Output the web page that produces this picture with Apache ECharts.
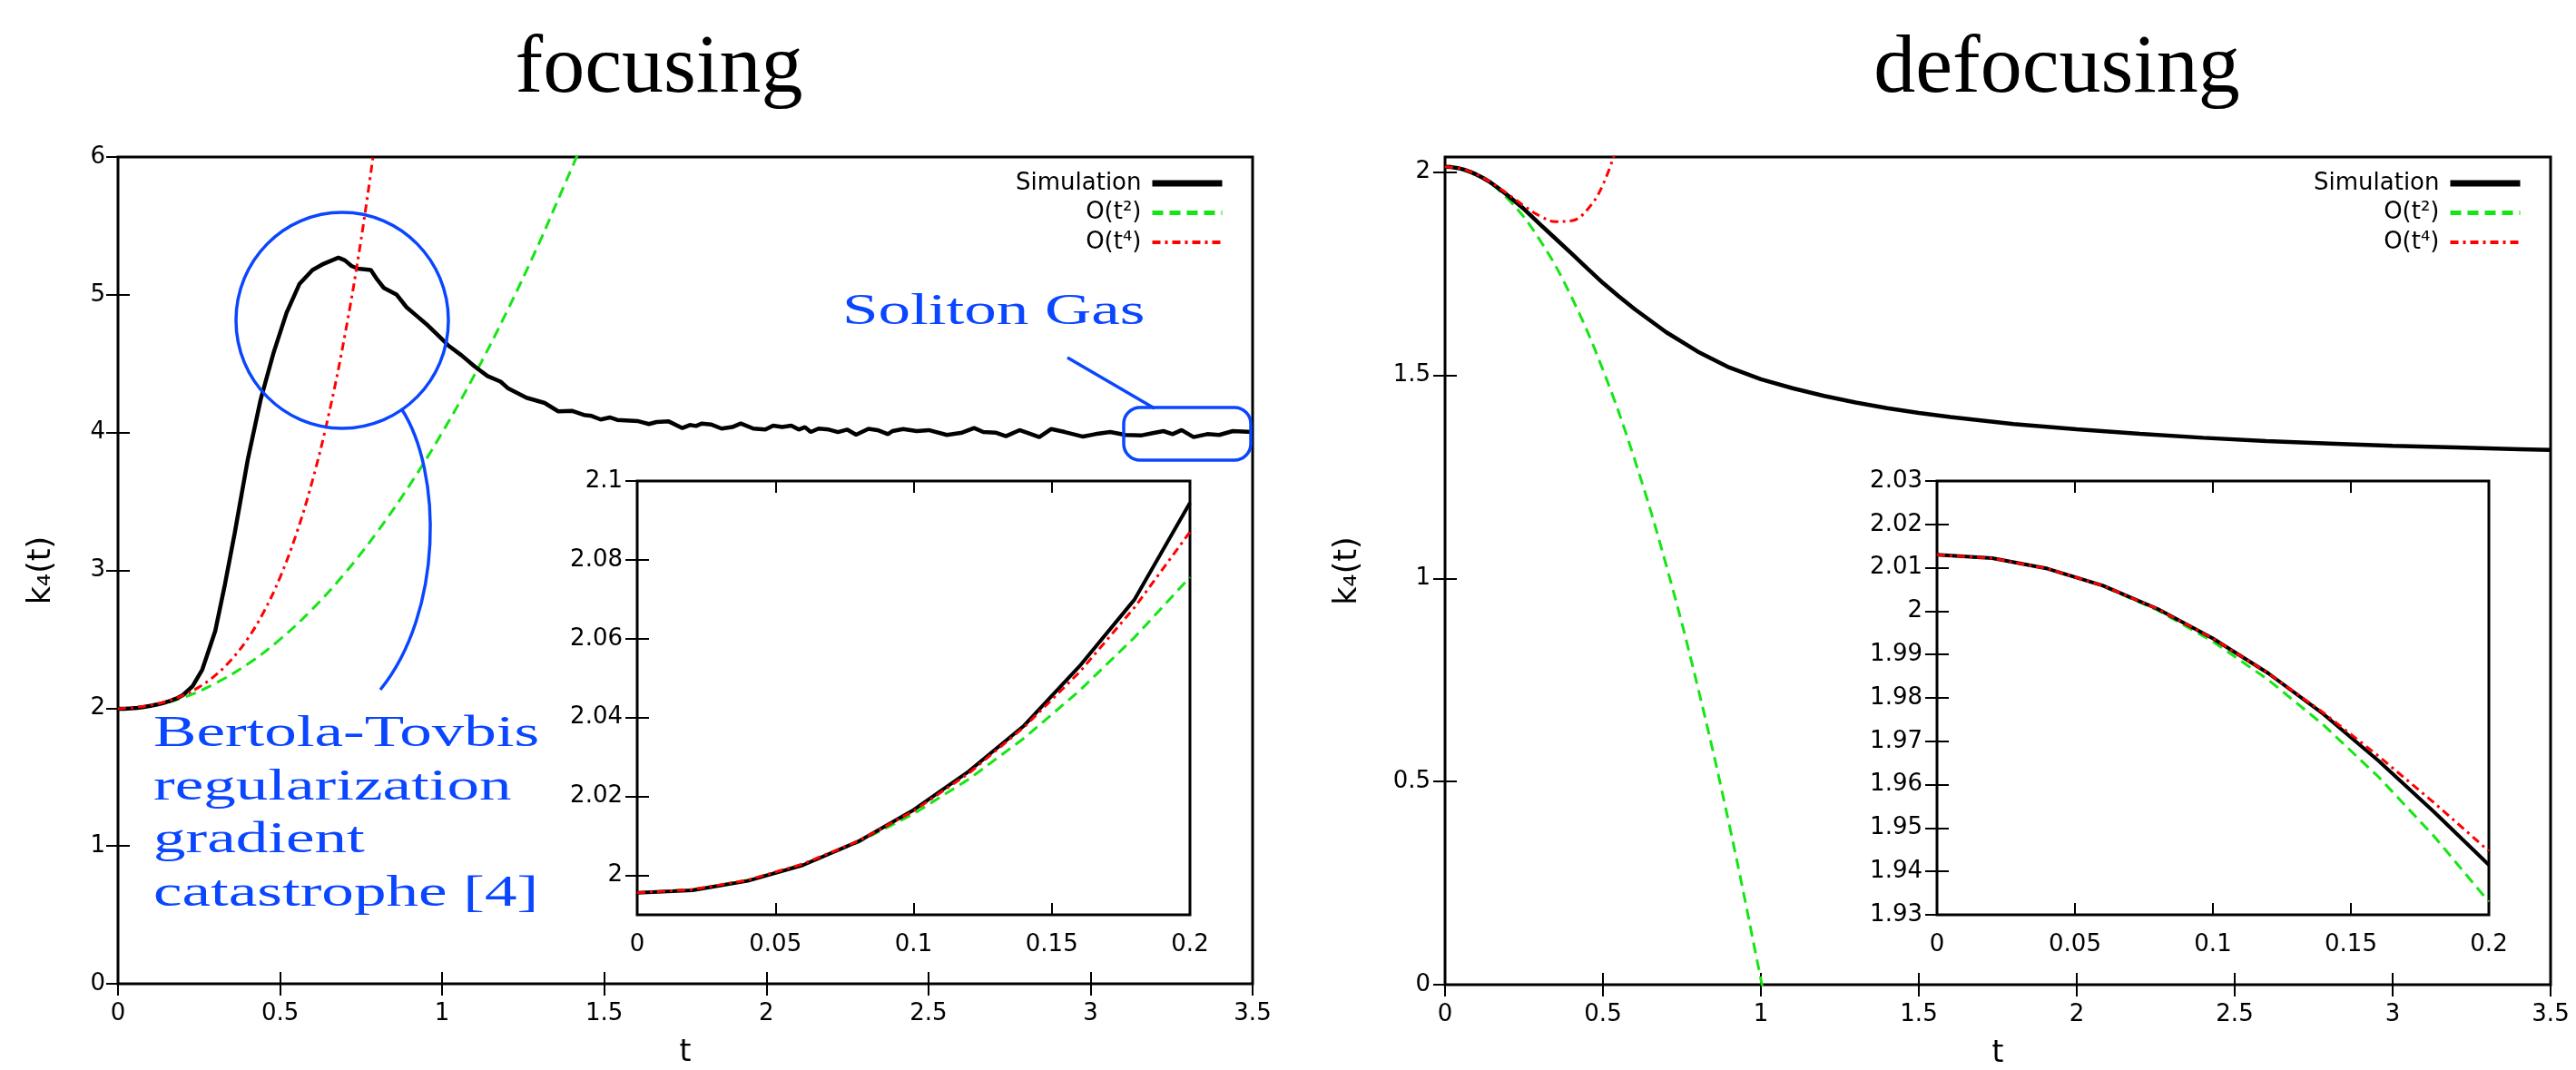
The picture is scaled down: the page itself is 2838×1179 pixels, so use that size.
<!DOCTYPE html>
<html>
<head>
<meta charset="utf-8">
<title>k4(t) focusing / defocusing</title>
<script src="https://cdn.jsdelivr.net/npm/echarts@6/dist/echarts.min.js"></script>
<style>
html, body { margin: 0; padding: 0; background: #fff; }
#chart { width: 2838px; height: 1179px; }
</style>
</head>
<body>
<div id="chart"></div>
<script>
// ---------- data ----------
const names = ['Simulation', 'O(t²)', 'O(t⁴)'];

// focusing, main panel
const focSimT = [0, 0.02, 0.04, 0.06, 0.08, 0.1, 0.12, 0.14, 0.16, 0.18, 0.2, 0.23, 0.26, 0.3, 0.33, 0.36, 0.4, 0.44, 0.48,
  0.52, 0.56, 0.6, 0.63, 0.66, 0.68, 0.7, 0.72, 0.74, 0.78, 0.8, 0.82, 0.86, 0.89, 0.92, 0.95, 0.99, 1.02, 1.06, 1.1,
  1.14, 1.18, 1.204, 1.26, 1.316, 1.358, 1.4, 1.437, 1.461, 1.489, 1.517, 1.54, 1.605, 1.638, 1.661, 1.699, 1.741,
  1.764, 1.783, 1.801, 1.829, 1.862, 1.895, 1.921, 1.96, 1.997, 2.021, 2.049, 2.077, 2.1, 2.119, 2.137, 2.161, 2.193,
  2.221, 2.249, 2.277, 2.315, 2.343, 2.375, 2.389, 2.422, 2.464, 2.501, 2.557, 2.604, 2.641, 2.669, 2.707, 2.739,
  2.781, 2.809, 2.842, 2.879, 2.921, 2.977, 3.015, 3.061, 3.108, 3.155, 3.192, 3.225, 3.253, 3.281, 3.318, 3.36,
  3.397, 3.439, 3.5];
const focSimK = [1.9956, 1.9962, 1.9986, 2.0026, 2.0086, 2.0166, 2.0264, 2.038, 2.053, 2.07, 2.0945, 2.16, 2.28, 2.56,
  2.9, 3.27, 3.8, 4.24, 4.58, 4.87, 5.08, 5.18, 5.22, 5.25, 5.27, 5.25, 5.21, 5.19, 5.18, 5.11, 5.05, 5.0, 4.91, 4.85,
  4.79, 4.7, 4.63, 4.56, 4.48, 4.41, 4.37, 4.32, 4.253, 4.215, 4.154, 4.158, 4.128, 4.121, 4.095, 4.11, 4.092, 4.083,
  4.062, 4.077, 4.081, 4.033, 4.055, 4.048, 4.066, 4.059, 4.029, 4.04, 4.066, 4.029, 4.022, 4.051, 4.04, 4.051, 4.022,
  4.04, 4.004, 4.029, 4.022, 4.004, 4.022, 3.985, 4.027, 4.018, 3.989, 4.011, 4.026, 4.011, 4.018, 3.983, 4.0, 4.033,
  4.004, 4.0, 3.974, 4.018, 3.996, 3.967, 4.026, 4.004, 3.971, 3.989, 4.004, 3.983, 3.979, 3.996, 4.011, 3.989, 4.018,
  3.967, 3.989, 3.983, 4.011, 4.004];
const focT2T = [0, 0.1, 0.2, 0.3, 0.4, 0.5, 0.6, 0.7, 0.8, 0.9, 1.0, 1.1, 1.2, 1.3, 1.35, 1.42];
const focT2K = [1.9956, 2.016, 2.076, 2.18, 2.32, 2.5, 2.72, 2.98, 3.28, 3.62, 4.0, 4.42, 4.88, 5.38, 5.65, 6.03];
const focT4T = [0, 0.05, 0.1, 0.15, 0.2, 0.25, 0.3, 0.35, 0.4, 0.45, 0.5, 0.55, 0.6, 0.65, 0.7, 0.75, 0.8];
const focT4K = [1.9956, 2.005, 2.021, 2.049, 2.092, 2.153, 2.238, 2.353, 2.504, 2.7, 2.95, 3.264, 3.653, 4.13, 4.709,
  5.403, 6.229];

// focusing, inset
const insT = [0, 0.02, 0.04, 0.06, 0.08, 0.1, 0.12, 0.14, 0.16, 0.18, 0.2];
const focInSim = [1.9956, 1.9962, 1.9986, 2.0026, 2.0086, 2.0166, 2.0264, 2.038, 2.053, 2.07, 2.0945];
const focInT2 = [1.9956, 1.9964, 1.9988, 2.0028, 2.0084, 2.0156, 2.0244, 2.0348, 2.0468, 2.0604, 2.0756];
const focInT4 = [1.9956, 1.9964, 1.9988, 2.0029, 2.0087, 2.0163, 2.0259, 2.0376, 2.0515, 2.068, 2.0871];

// defocusing, main panel
const defSimT = [0, 0.02, 0.04, 0.06, 0.08, 0.1, 0.12, 0.14, 0.16, 0.18, 0.2, 0.25, 0.3, 0.35, 0.4, 0.45, 0.5, 0.55,
  0.6, 0.7, 0.8, 0.9, 1.0, 1.1, 1.2, 1.3, 1.4, 1.5, 1.6, 1.8, 2.0, 2.2, 2.4, 2.6, 2.8, 3.0, 3.2, 3.4, 3.5];
const defSimK = [2.013, 2.0122, 2.0098, 2.0059, 2.0005, 1.9937, 1.9857, 1.9763, 1.9655, 1.9538, 1.9415, 1.909, 1.872,
  1.836, 1.8, 1.763, 1.727, 1.694, 1.663, 1.606, 1.558, 1.519, 1.49, 1.468, 1.449, 1.433, 1.419, 1.407, 1.397, 1.38,
  1.367, 1.356, 1.346, 1.338, 1.332, 1.326, 1.322, 1.318, 1.316];
const defT2T = [0, 0.1, 0.2, 0.3, 0.4, 0.5, 0.6, 0.7, 0.8, 0.9, 1.0, 1.02];
const defT2K = [2.013, 1.993, 1.933, 1.833, 1.693, 1.513, 1.293, 1.033, 0.733, 0.393, 0.013, -0.068];
const defT4T = [0, 0.05, 0.1, 0.15, 0.2, 0.25, 0.3, 0.35, 0.4, 0.45, 0.5, 0.55];
const defT4K = [2.013, 2.008, 1.994, 1.972, 1.945, 1.917, 1.892, 1.878, 1.88, 1.907, 1.969, 2.077];

// defocusing, inset
const defInSim = [2.013, 2.0122, 2.0098, 2.0059, 2.0005, 1.9937, 1.9857, 1.9763, 1.9655, 1.9538, 1.9415];
const defInT2 = [2.013, 2.0122, 2.0098, 2.0058, 2.0002, 1.993, 1.9842, 1.9738, 1.9618, 1.9482, 1.933];
const defInT4 = [2.013, 2.0122, 2.0098, 2.0059, 2.0005, 1.9937, 1.9857, 1.9766, 1.9666, 1.9559, 1.9447];

// tick values
const mainXTicks = { min: 0, max: 3.5, interval: 0.5 };
const insXTicks = { min: 0, max: 0.2, interval: 0.05 };
const focYTicks = [0, 1, 2, 3, 4, 5, 6];
const focInYTicks = [2, 2.02, 2.04, 2.06, 2.08, 2.1];
const defYTicks = [0, 0.5, 1, 1.5, 2];
const defInYTicks = [1.93, 1.94, 1.95, 1.96, 1.97, 1.98, 1.99, 2, 2.01, 2.02, 2.03];

// ---------- helpers ----------
const FONT = 'DejaVu Sans';
const BLUE = '#0a46ff';
const GREEN = '#14e614';
const RED = '#ff0000';

const zip = (xs, ys) => xs.map((x, i) => [x, ys[i]]);

function tickStyle(custom) {
  const t = { show: true, inside: true, length: 13, lineStyle: { color: '#000', width: 2 } };
  if (custom) t.customValues = custom;
  return t;
}

function xPair(grid, r, margin, withName) {
  const base = {
    type: 'value', gridIndex: grid, min: r.min, max: r.max, interval: r.interval,
    splitLine: { show: false }, axisLine: { show: false }, axisTick: tickStyle()
  };
  const bottom = Object.assign({}, base, {
    position: 'bottom',
    axisLabel: { fontFamily: FONT, fontSize: 26, color: '#000', margin: margin }
  });
  if (withName) {
    bottom.name = 't';
    bottom.nameLocation = 'middle';
    bottom.nameGap = 60;
    bottom.nameTextStyle = { fontFamily: FONT, fontSize: 33, color: '#000' };
  }
  const top = Object.assign({}, base, { position: 'top', axisLabel: { show: false } });
  return [bottom, top];
}

function yPair(grid, min, max, ticks, margin, nameGap) {
  const base = {
    type: 'value', gridIndex: grid, min: min, max: max,
    splitLine: { show: false }, axisLine: { show: false }, axisTick: tickStyle(ticks)
  };
  const left = Object.assign({}, base, {
    position: 'left',
    axisLabel: { fontFamily: FONT, fontSize: 26, color: '#000', margin: margin, customValues: ticks }
  });
  if (nameGap) {
    left.name = 'k₄(t)';
    left.nameLocation = 'middle';
    left.nameRotate = 90;
    left.nameGap = nameGap;
    left.nameTextStyle = { fontFamily: FONT, fontSize: 35, color: '#000' };
  }
  const right = Object.assign({}, base, { position: 'right', axisLabel: { show: false } });
  return [left, right];
}

function grid(left, top, width, height) {
  return {
    left: left, top: top, width: width, height: height, containLabel: false, outerBoundsMode: 'none',
    show: true, borderColor: '#000', borderWidth: 3, backgroundColor: '#fff'
  };
}

function sim(axis, data, w) {
  return { name: names[0], type: 'line', xAxisIndex: axis, yAxisIndex: axis, data: data, symbol: 'none',
    lineStyle: { color: '#000', width: w }, itemStyle: { color: '#000' }, z: 4 };
}
function ord2(axis, data, smooth) {
  return { name: names[1], type: 'line', xAxisIndex: axis, yAxisIndex: axis, data: data, symbol: 'none', smooth: smooth,
    lineStyle: { color: GREEN, width: 3, type: [12, 7] }, itemStyle: { color: GREEN }, z: 3 };
}
function ord4(axis, data, smooth) {
  return { name: names[2], type: 'line', xAxisIndex: axis, yAxisIndex: axis, data: data, symbol: 'none', smooth: smooth,
    lineStyle: { color: RED, width: 3, type: [9, 5, 3, 5] }, itemStyle: { color: RED }, z: 5 };
}

function legend(right) {
  return {
    data: [
      { name: names[0], lineStyle: { width: 7 } },
      { name: names[1], lineStyle: { width: 5 } },
      { name: names[2], lineStyle: { width: 4 } }
    ],
    orient: 'vertical', align: 'right', right: right, top: 189, padding: 0,
    itemWidth: 77, itemHeight: 26, itemGap: 6.5, selectedMode: false,
    itemStyle: { opacity: 0 },
    textStyle: { fontFamily: FONT, fontSize: 26, color: '#000', padding: [0, 7, 0, 0] }
  };
}

function label(text, x, y, size, color, align, sx) {
  return {
    type: 'text', x: x, y: y, scaleX: sx || 1, z: 100,
    style: { text: text, fontFamily: 'Liberation Serif', fontSize: size, fill: color, align: align, verticalAlign: 'middle' }
  };
}

// ---------- option ----------
const xAxes = [].concat(
  xPair(0, mainXTicks, 20, true),
  xPair(1, insXTicks, 20, false),
  xPair(2, mainXTicks, 20, true),
  xPair(3, insXTicks, 20, false)
);
const yAxes = [].concat(
  yPair(0, 0, 6, focYTicks, 14, 67),
  yPair(1, 1.99, 2.1, focInYTicks, 16, 0),
  yPair(2, 0, 2.037, defYTicks, 16, 90),
  yPair(3, 1.93, 2.03, defInYTicks, 16, 0)
);

const option = {
  animation: false,
  backgroundColor: '#fff',
  grid: [
    grid(130, 173, 1250, 911),
    grid(702, 530, 609, 478),
    grid(1592, 173, 1218, 912),
    grid(2134, 530, 608, 478)
  ],
  xAxis: xAxes,
  yAxis: yAxes,
  legend: [legend(1488), legend(58)],
  series: [
    sim(0, zip(focSimT, focSimK), 4.5),
    ord2(0, zip(focT2T, focT2K), 0.4),
    ord4(0, zip(focT4T, focT4K), 0.4),
    sim(2, zip(insT, focInSim), 4),
    ord2(2, zip(insT, focInT2), false),
    ord4(2, zip(insT, focInT4), false),
    sim(4, zip(defSimT, defSimK), 4.5),
    ord2(4, zip(defT2T, defT2K), 0.4),
    ord4(4, zip(defT4T, defT4K), 0.4),
    sim(6, zip(insT, defInSim), 4),
    ord2(6, zip(insT, defInT2), false),
    ord4(6, zip(insT, defInT4), false)
  ],
  graphic: [
    label('focusing', 726, 77, 92, '#000', 'center'),
    label('defocusing', 2266, 77, 92, '#000', 'center'),
    // annotations
    { type: 'ellipse', z: 100, shape: { cx: 377, cy: 353, rx: 117, ry: 119 },
      style: { fill: 'none', stroke: BLUE, lineWidth: 3.5 } },
    { type: 'bezierCurve', z: 100,
      shape: { x1: 442, y1: 450, cpx1: 488, cpy1: 520, cpx2: 488, cpy2: 675, x2: 419, y2: 760 },
      style: { fill: 'none', stroke: BLUE, lineWidth: 3.5 } },
    { type: 'line', z: 100, shape: { x1: 1176, y1: 394, x2: 1272, y2: 450 },
      style: { stroke: BLUE, lineWidth: 3.5 } },
    { type: 'rect', z: 100, shape: { x: 1238, y: 449, width: 140, height: 58, r: 18 },
      style: { fill: 'none', stroke: BLUE, lineWidth: 3.5 } },
    label('Soliton Gas', 928, 344, 48, BLUE, 'left', 1.48),
    label('Bertola-Tovbis', 169, 809, 48, BLUE, 'left', 1.48),
    label('regularization', 169, 868, 48, BLUE, 'left', 1.48),
    label('gradient', 169, 926, 48, BLUE, 'left', 1.48),
    label('catastrophe [4]', 169, 985, 48, BLUE, 'left', 1.48)
  ]
};

const chart = echarts.init(document.getElementById('chart'));
chart.setOption(option);
</script>
</body>
</html>
